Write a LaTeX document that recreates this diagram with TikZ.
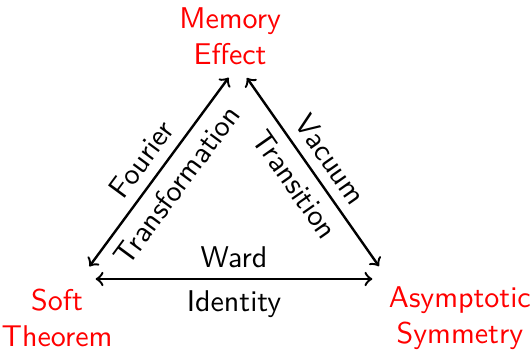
\documentclass[tikz,border=0pt]{standalone}
\usepackage{xcolor}
\usetikzlibrary{positioning, arrows.meta}
\tikzset{
  >=to,
  term/.style={align=center, text=red},
  corner/.style={circle, minimum size=10pt, inner sep=0pt},
  link/.style={<->, thick},
}

\begin{document}
\begin{tikzpicture}[every node/.style={font=\sffamily}]
  \useasboundingbox (0,0) rectangle (177pt,117pt);

  % Corners of the triangle
  \node[corner] (vm) at (79.3pt,95.3pt) {};
  \node[corner] (vs) at (26.7pt,24pt) {};
  \node[corner] (va) at (129.3pt,24pt) {};

  % Terms at the corners
  \node[term] (memory) at (76.7pt,105pt) {Memory\\Effect};
  \node[term] (soft) at (19pt,11pt) {Soft\\Theorem};
  \node[term] (asym) at (153.3pt,11pt) {Asymptotic\\Symmetry};

  % Links between the terms
  \draw[link] (vs) -- node[above,sloped] {Fourier} node[below,sloped] {Transformation} (vm);
  \draw[link] (vm) -- node[above,sloped] {Vacuum} node[below,sloped] {Transition} (va);
  \draw[link] (vs) -- node[above] {Ward} node[below] {Identity} (va);

\end{tikzpicture}
\end{document}
